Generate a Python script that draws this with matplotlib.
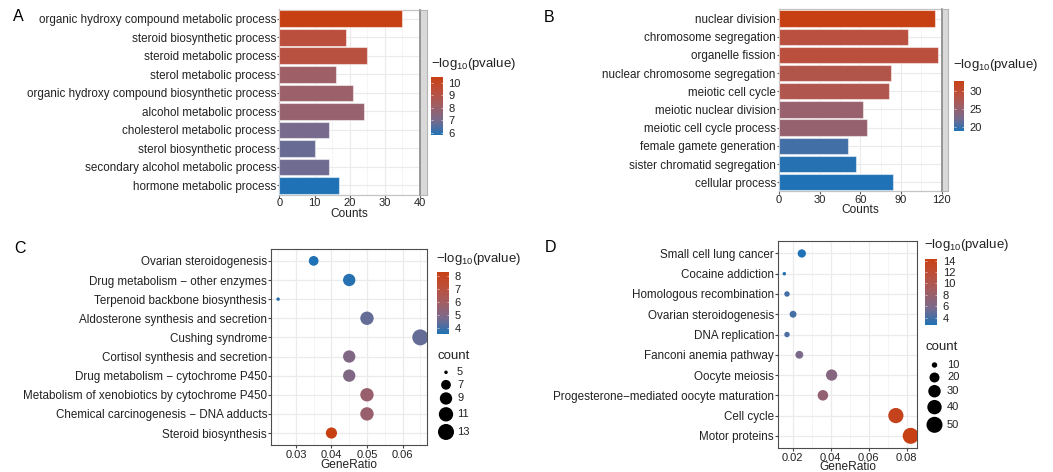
import numpy as np
import matplotlib
matplotlib.use('Agg')
import matplotlib.pyplot as plt
from matplotlib.colors import LinearSegmentedColormap, Normalize
from matplotlib.cm import ScalarMappable
from matplotlib.ticker import MultipleLocator

plt.rcParams['font.family'] = ['Liberation Sans', 'DejaVu Sans']
plt.rcParams['mathtext.fontset'] = 'custom'
plt.rcParams['mathtext.rm'] = 'Liberation Sans'
plt.rcParams['mathtext.default'] = 'regular'

# ---- data ----
terms_a = ['organic hydroxy compound metabolic process', 'steroid biosynthetic process',
           'steroid metabolic process', 'sterol metabolic process',
           'organic hydroxy compound biosynthetic process', 'alcohol metabolic process',
           'cholesterol metabolic process', 'sterol biosynthetic process',
           'secondary alcohol metabolic process', 'hormone metabolic process']
counts_a = [35, 19, 25, 16, 21, 24, 14, 10, 14, 17]
logp_a = [10.48, 9.3, 9.2, 8.1, 8.0, 7.9, 7.0, 6.8, 6.9, 5.84]

terms_b = ['nuclear division', 'chromosome segregation', 'organelle fission',
           'nuclear chromosome segregation', 'meiotic cell cycle', 'meiotic nuclear division',
           'meiotic cell cycle process', 'female gamete generation',
           'sister chromatid segregation', 'cellular process']
counts_b = [115, 95, 117, 83, 81, 62, 65, 51, 57, 84]
logp_b = [32.9, 29.0, 29.3, 28.0, 27.8, 25.1, 25.0, 20.2, 19.1, 18.8]

terms_c = ['Ovarian steroidogenesis', 'Drug metabolism \u2212 other enzymes',
           'Terpenoid backbone biosynthesis', 'Aldosterone synthesis and secretion',
           'Cushing syndrome', 'Cortisol synthesis and secretion',
           'Drug metabolism \u2212 cytochrome P450',
           'Metabolism of xenobiotics by cytochrome P450',
           'Chemical carcinogenesis \u2212 DNA adducts', 'Steroid biosynthesis']
ratio_c = [0.035, 0.045, 0.025, 0.05, 0.065, 0.045, 0.045, 0.05, 0.05, 0.04]
count_c = [7, 9, 5, 10, 13, 9, 9, 10, 10, 8]
logp_c = [3.58, 3.7, 3.75, 4.5, 4.5, 5.0, 5.0, 5.7, 5.7, 8.26]

terms_d = ['Small cell lung cancer', 'Cocaine addiction', 'Homologous recombination',
           'Ovarian steroidogenesis', 'DNA replication', 'Fanconi anemia pathway',
           'Oocyte meiosis', 'Progesterone\u2212mediated oocyte maturation',
           'Cell cycle', 'Motor proteins']
ratio_d = [0.0248, 0.0156, 0.017, 0.0202, 0.017, 0.0235, 0.0405, 0.0359, 0.0743, 0.0821]
count_d = [15, 9, 10, 12, 10, 14, 25, 22, 45, 50]
logp_d = [2.7, 3.0, 3.8, 3.9, 4.2, 5.8, 6.6, 7.5, 13.7, 14.3]

ticks_a, ticks_b = [0, 10, 20, 30, 40], [0, 30, 60, 90, 120]
cbticks_a, cbticks_b = [6, 7, 8, 9, 10], [20, 25, 30]
cbticks_c, cbticks_d = [4, 5, 6, 7, 8], [4, 6, 8, 10, 12, 14]
size_breaks_c = [5, 7, 9, 11, 13]
size_breaks_d = [10, 20, 30, 40, 50]

W, H = 1053, 472
fig = plt.figure(figsize=(W / 100, H / 100), dpi=100)
cmap = LinearSegmentedColormap.from_list(
    'bluered', ['#1F72B5', '#786A8D', '#A05E64', '#BC4F3C', '#C74014'])
TXT = '#222222'
LEG_TITLE = '\u2212log$_{10}$(pvalue)'
TICK_FS = 8.0


def add_px(x0, y0, x1, y1):
    return fig.add_axes([x0 / W, 1 - y1 / H, (x1 - x0) / W, (y1 - y0) / H])


def dot_diam(v, vmin, vmax):
    t = np.clip((np.asarray(v, float) - vmin) / (vmax - vmin), 0, 1)
    return 2.5 * (1 + 5 * np.sqrt(t)) + 1


def bar_panel(box, terms, counts, logp, xticks):
    x0, y0, x1, y1 = box
    ax = add_px(x0, y0, x1, y1)
    n = len(terms)
    y = n - np.arange(n)
    norm = Normalize(min(logp), max(logp))
    ax.barh(y, counts, height=0.9, color=cmap(norm(logp)),
            edgecolor=(1, 1, 1, 0.5), linewidth=0.8, zorder=3)
    ax.set_xlim(xticks[0], xticks[-1])
    ax.set_ylim(0.5, n + 0.5)
    ax.set_yticks(y)
    ax.set_yticklabels(terms)
    ax.set_xticks(xticks)
    ax.xaxis.set_minor_locator(MultipleLocator((xticks[1] - xticks[0]) / 2))
    ax.grid(True, which='major', color='#EBEBEB', lw=0.8, zorder=0)
    ax.grid(True, which='minor', axis='x', color='#F2F2F2', lw=0.5, zorder=0)
    ax.set_axisbelow(True)
    for s in ax.spines.values():
        s.set_color('#C4C4C4')
        s.set_linewidth(0.9)
    ax.tick_params(axis='y', length=1.5, pad=0.8, labelsize=8.4, colors='#555555',
                   labelcolor=TXT)
    ax.tick_params(axis='x', which='major', length=2, pad=0.6, labelsize=TICK_FS,
                   colors='#555555', labelcolor=TXT)
    ax.tick_params(axis='x', which='minor', length=0)
    ax.set_xlabel('Counts', fontsize=8.6, color=TXT, labelpad=-0.5)
    # side strip
    st = add_px(x1, y0, x1 + 6.5, y1)
    st.set_facecolor('#D9D9D9')
    st.set_xticks([])
    st.set_yticks([])
    for s in st.spines.values():
        s.set_color('#B5B5B5')
        s.set_linewidth(0.8)
    st.spines['left'].set_color('#808080')
    st.spines['left'].set_linewidth(1.1)
    return norm


def dot_panel(box, terms, ratio, count, logp, step, tpad):
    ax = add_px(*box)
    n = len(terms)
    y = n - np.arange(n)
    norm = Normalize(min(logp), max(logp))
    d = dot_diam(count, min(count), max(count))
    ax.scatter(ratio, y, s=(d * 0.72) ** 2, c=logp, cmap=cmap, norm=norm,
               linewidths=0, zorder=3)
    lo, hi = min(ratio), max(ratio)
    pad = 0.05 * (hi - lo)
    ax.set_xlim(lo - pad, hi + pad)
    ax.set_ylim(0.4, n + 0.6)
    ax.set_yticks(y)
    ax.set_yticklabels(terms)
    ax.xaxis.set_major_locator(MultipleLocator(step))
    ax.xaxis.set_minor_locator(MultipleLocator(step / 2))
    ax.xaxis.set_major_formatter(lambda v, p: ('%.2f' % v))
    ax.grid(True, which='major', color='#EBEBEB', lw=0.9, zorder=0)
    ax.grid(True, which='minor', axis='x', color='#F2F2F2', lw=0.5, zorder=0)
    ax.set_axisbelow(True)
    for s in ax.spines.values():
        s.set_color('#4D4D4D')
        s.set_linewidth(0.8)
    ax.tick_params(axis='y', length=2, pad=0.8, labelsize=8.4, colors='#444444',
                   labelcolor=TXT)
    ax.tick_params(axis='x', which='major', length=2.5, pad=tpad, labelsize=TICK_FS,
                   colors='#444444', labelcolor=TXT)
    ax.tick_params(axis='x', which='minor', length=0)
    ax.set_xlabel('GeneRatio', fontsize=8.6, color=TXT, labelpad=-1)
    return norm, min(count), max(count)


def colorbar(box, norm, ticks, title_xy):
    cax = add_px(*box)
    cb = fig.colorbar(ScalarMappable(norm=norm, cmap=cmap), cax=cax)
    cb.outline.set_visible(False)
    cb.set_ticks(ticks)
    cb.minorticks_off()
    cax.tick_params(length=1.6, width=0.5, color=(1, 1, 1, 0.75), direction='in',
                    left=True, right=True, labelsize=TICK_FS, pad=4, labelcolor=TXT)
    fig.text(title_xy[0] / W, 1 - title_xy[1] / H, LEG_TITLE, ha='left', va='center',
             fontsize=9.5, color=TXT)


overlay = fig.add_axes([0, 0, 1, 1], zorder=10)
overlay.set_xlim(0, W)
overlay.set_ylim(H, 0)
overlay.axis('off')


def size_legend(breaks, vmin, vmax, title_xy, x_dot, x_lab, y_first):
    overlay.text(title_xy[0], title_xy[1], 'count', ha='left', va='center',
                 fontsize=9.5, color=TXT)
    d = dot_diam(breaks, vmin, vmax)
    h = np.maximum(12.5, d + 2.5)
    ys = y_first + np.concatenate([[0], np.cumsum((h[:-1] + h[1:]) / 2)])
    overlay.scatter(np.full(len(breaks), x_dot), ys, s=(d * 0.72) ** 2, c='black',
                    linewidths=0, clip_on=False)
    for b, yy in zip(breaks, ys):
        overlay.text(x_lab, yy, str(b), ha='left', va='center', fontsize=TICK_FS, color=TXT)


# panel A
norm_a = bar_panel((279.4, 9.5, 420, 194.7), terms_a, counts_a, logp_a, ticks_a)
colorbar((431, 76.5, 442.5, 135), norm_a, cbticks_a, (431, 64))
# panel B
norm_b = bar_panel((779, 9.5, 941.6, 191.3), terms_b, counts_b, logp_b, ticks_b)
colorbar((953.5, 80.7, 963.8, 131), norm_b, cbticks_b, (953, 65))
# panel C
norm_c, cmin, cmax = dot_panel((271, 249.4, 427.4, 444.5), terms_c, ratio_c, count_c,
                               logp_c, 0.01, 1.8)
colorbar((437, 272.4, 448.7, 334), norm_c, cbticks_c, (436, 259))
size_legend(size_breaks_c, cmin, cmax, (437, 356), 446, 457, 372.3)
# panel D
norm_d, dmin, dmax = dot_panel((778, 241.3, 917, 448), terms_d, ratio_d, count_d,
                               logp_d, 0.02, 0.8)
colorbar((924.7, 258.9, 937.2, 324.9), norm_d, cbticks_d, (924, 245))
size_legend(size_breaks_d, dmin, dmax, (926, 346.5), 934.5, 947, 365)

for lab, xy in [('A', (18.5, 16.5)), ('B', (549, 17)), ('C', (19.6, 248.7)), ('D', (550, 248))]:
    overlay.text(xy[0], xy[1], lab, ha='center', va='center', fontsize=11.5, color='black')

fig.savefig('out.png', dpi=100)
